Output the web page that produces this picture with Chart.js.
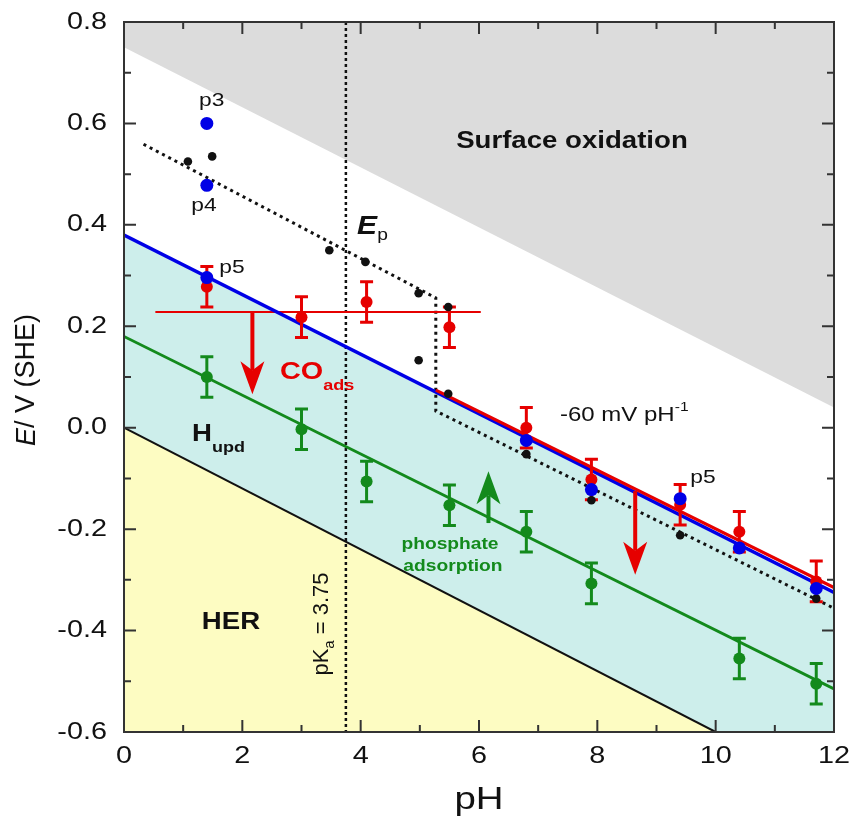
<!DOCTYPE html>
<html><head><meta charset="utf-8">
<script src="https://cdn.jsdelivr.net/npm/chart.js@4.4.0/dist/chart.umd.min.js"></script>
<style>html,body{margin:0;padding:0;background:#fff;overflow:hidden}#wrap{width:851px;height:822px;position:relative}</style>
</head><body><div id="wrap"><canvas id="c"></canvas></div>
<script>
// ---------- data ----------
const xTickLabels = [0, 2, 4, 6, 8, 10, 12];
const xMinorTicks = [1, 3, 5, 7, 9, 11];
const yTickLabels = [0.8, 0.6, 0.4, 0.2, 0.0, -0.2, -0.4, -0.6];
const yMinorTicks = [0.7, 0.5, 0.3, 0.1, -0.1, -0.3, -0.5];

// CO stripping peaks (red, with error bars)
const coPH = [1.4, 3.0, 4.1, 5.5, 6.8, 7.9, 9.4, 10.4, 11.7];
const coE = [0.278, 0.218, 0.248, 0.198, 0.0, -0.102, -0.152, -0.205, -0.303];
const coErr = [0.04, 0.04, 0.04, 0.04, 0.04, 0.04, 0.04, 0.04, 0.04];
// phosphate adsorption (green, with error bars)
const phosPH = [1.4, 3.0, 4.1, 5.5, 6.8, 7.9, 10.4, 11.7];
const phosE = [0.1, -0.003, -0.106, -0.153, -0.205, -0.307, -0.455, -0.505];
const phosErr = [0.04, 0.04, 0.04, 0.04, 0.04, 0.04, 0.04, 0.04];
// peak potentials p3/p4/p5 (blue)
const peakPH = [1.4, 1.4, 1.4, 6.8, 7.9, 9.4, 10.4, 11.7];
const peakE = [0.6, 0.478, 0.296, -0.025, -0.122, -0.14, -0.237, -0.317];
// Ep (black dots)
const epPH = [1.08, 1.49, 3.47, 4.08, 4.98, 5.48, 4.98, 5.48, 6.8, 7.9, 9.4, 11.7];
const epE = [0.525, 0.535, 0.35, 0.327, 0.265, 0.238, 0.133, 0.067, -0.052, -0.143, -0.212, -0.337];

// boundary lines
const oxPH = [0, 12];      const oxE = [0.75, 0.04];
const herPH = [0, 10];     const herE = [0.0, -0.6];
const hupdPH = [0, 12];    const hupdE = [0.38, -0.325];
const coLinePH = [5.27, 12]; const coLineE = [0.074, -0.315];
const phosLinePH = [0, 12];  const phosLineE = [0.18, -0.515];
const epLinePH = [0.33, 5.27, 5.27, 12]; const epLineE = [0.559, 0.256, 0.033, -0.356];
const pKaPH = [3.75, 3.75]; const pKaE = [0.8, -0.6];
const coPlateauPH = [0.53, 6.03]; const coPlateauE = [0.228, 0.228];

// arrows
const arrowPH = [2.17, 8.64, 6.16];
const arrowFrom = [0.228, -0.125, -0.188];
const arrowTo = [0.066, -0.29, -0.086];

// ---------- build ----------
const pts = (xs, ys) => xs.map((x, i) => ({x, y: ys[i]}));
const RED = '#e60000', BLUE = '#0000e6', GREEN = '#138a1c', BLACK = '#111';
const FONT = '"Liberation Sans", Arial, Helvetica, sans-serif';
const SX = 1.2;

function lineDs(xs, ys, color, width, extra) {
  return Object.assign({type: 'line', data: pts(xs, ys), borderColor: color, borderWidth: width,
    pointRadius: 0, fill: false, tension: 0}, extra || {});
}
function pointDs(xs, ys, color, r, extra) {
  return Object.assign({type: 'scatter', data: pts(xs, ys), backgroundColor: color, borderColor: color,
    pointRadius: r, borderWidth: 0, showLine: false}, extra || {});
}

const datasets = [
  pointDs(peakPH, peakE, BLUE, 6.5),
  pointDs(epPH, epE, BLACK, 4.3),
  pointDs(coPH, coE, RED, 6, {errors: coErr}),
  pointDs(phosPH, phosE, GREEN, 6, {errors: phosErr}),
  lineDs(herPH, herE, BLACK, 2, {fill: 'start', backgroundColor: '#fdfcc2'}),
  lineDs(coLinePH, coLineE, RED, 3.2),
  lineDs(hupdPH, hupdE, BLUE, 3.5, {fill: 'start', backgroundColor: '#cdeeeb'}),
  lineDs(coPlateauPH, coPlateauE, RED, 2),
  lineDs(phosLinePH, phosLineE, GREEN, 2.8),
  lineDs(epLinePH, epLineE, BLACK, 3, {borderDash: [3, 4]}),
  lineDs(pKaPH, pKaE, BLACK, 2.5, {borderDash: [3, 3]}),
  lineDs(oxPH, oxE, 'rgba(0,0,0,0)', 0, {fill: 'end', backgroundColor: '#dcdcdc'})
];

// ---------- helpers ----------
function rich(ctx, parts, x, y, align, sx) {
  sx = sx || SX;
  let w = 0;
  parts.forEach(p => { ctx.font = p.font; w += ctx.measureText(p.t).width; });
  ctx.save();
  ctx.translate(x, y);
  ctx.scale(sx, 1);
  let cx = align === 'center' ? -w / 2 : (align === 'right' ? -w : 0);
  ctx.textBaseline = 'middle';
  ctx.textAlign = 'left';
  parts.forEach(p => {
    ctx.font = p.font; ctx.fillStyle = p.color || '#111';
    ctx.fillText(p.t, cx, p.dy || 0);
    cx += ctx.measureText(p.t).width;
  });
  ctx.restore();
}
function arrow(ctx, x, y0, y1, color) {
  const dir = y1 > y0 ? 1 : -1;
  const headL = 33, headW = 12, notch = 24;
  ctx.save();
  ctx.strokeStyle = color; ctx.fillStyle = color; ctx.lineWidth = 4;
  ctx.beginPath(); ctx.moveTo(x, y0); ctx.lineTo(x, y1 - dir * notch); ctx.stroke();
  ctx.beginPath();
  ctx.moveTo(x, y1);
  ctx.lineTo(x - headW, y1 - dir * headL);
  ctx.lineTo(x, y1 - dir * notch);
  ctx.lineTo(x + headW, y1 - dir * headL);
  ctx.closePath(); ctx.fill();
  ctx.restore();
}

const deco = {
  id: 'deco',
  beforeDatasetDraw(chart, args) {
    const ds = chart.data.datasets[args.index];
    if (!ds.errors) return;
    const xs = chart.scales.x, ys = chart.scales.y, ctx = chart.ctx;
    ctx.save();
    ctx.strokeStyle = ds.borderColor; ctx.lineWidth = 3;
    ds.data.forEach((p, i) => {
      const px = xs.getPixelForValue(p.x);
      const t = ys.getPixelForValue(p.y + ds.errors[i]);
      const b = ys.getPixelForValue(p.y - ds.errors[i]);
      ctx.beginPath();
      ctx.moveTo(px, t); ctx.lineTo(px, b);
      ctx.moveTo(px - 6.5, t); ctx.lineTo(px + 6.5, t);
      ctx.moveTo(px - 6.5, b); ctx.lineTo(px + 6.5, b);
      ctx.stroke();
    });
    ctx.restore();
  },
  afterDatasetsDraw(chart) {
    const ctx = chart.ctx, xs = chart.scales.x, ys = chart.scales.y, a = chart.chartArea;
    const X = v => xs.getPixelForValue(v), Y = v => ys.getPixelForValue(v);
    // arrows
    const arrowColors = [RED, RED, GREEN];
    arrowPH.forEach((x, i) => arrow(ctx, X(x), Y(arrowFrom[i]), Y(arrowTo[i]), arrowColors[i]));
    // frame
    ctx.save();
    ctx.strokeStyle = '#333'; ctx.lineWidth = 2;
    ctx.strokeRect(a.left, a.top, a.right - a.left, a.bottom - a.top);
    ctx.beginPath();
    xTickLabels.forEach(v => { const p = X(v); ctx.moveTo(p, a.bottom); ctx.lineTo(p, a.bottom - 12); ctx.moveTo(p, a.top); ctx.lineTo(p, a.top + 12); });
    xMinorTicks.forEach(v => { const p = X(v); ctx.moveTo(p, a.bottom); ctx.lineTo(p, a.bottom - 7); ctx.moveTo(p, a.top); ctx.lineTo(p, a.top + 7); });
    yTickLabels.forEach(v => { const p = Y(v); ctx.moveTo(a.left, p); ctx.lineTo(a.left + 12, p); ctx.moveTo(a.right, p); ctx.lineTo(a.right - 12, p); });
    yMinorTicks.forEach(v => { const p = Y(v); ctx.moveTo(a.left, p); ctx.lineTo(a.left + 7, p); ctx.moveTo(a.right, p); ctx.lineTo(a.right - 7, p); });
    ctx.stroke();
    ctx.restore();
    // tick labels
    const tf = '24px ' + FONT;
    xTickLabels.forEach(v => rich(ctx, [{t: String(v), font: tf}], X(v), a.bottom + 24, 'center'));
    yTickLabels.forEach(v => rich(ctx, [{t: v.toFixed(1), font: tf}], a.left - 17, Y(v), 'right'));
    // axis titles
    rich(ctx, [{t: 'pH', font: '32px ' + FONT}], (a.left + a.right) / 2, 800, 'center');
    ctx.save();
    ctx.translate(27, 380); ctx.rotate(-Math.PI / 2);
    rich(ctx, [{t: 'E', font: 'italic 27px ' + FONT}, {t: '/ V (SHE)', font: '27px ' + FONT}], 0, 0, 'center', 1);
    ctx.restore();
    // annotations
    rich(ctx, [{t: 'Surface oxidation', font: 'bold 23px ' + FONT}], X(7.571), Y(0.5634), 'center');
    rich(ctx, [{t: 'p3', font: '19px ' + FONT}], X(1.482), Y(0.6442), 'center');
    rich(ctx, [{t: 'p4', font: '19px ' + FONT}], X(1.352), Y(0.4372), 'center');
    rich(ctx, [{t: 'p5', font: '19px ' + FONT}], X(1.825), Y(0.3149), 'center');
    rich(ctx, [{t: 'p5', font: '19px ' + FONT}], X(9.785), Y(-0.0992), 'center');
    rich(ctx, [{t: 'E', font: 'italic bold 25px ' + FONT}, {t: 'p', font: '16px ' + FONT, dy: 9}], X(3.94), Y(0.3958), 'left');
    rich(ctx, [{t: 'CO', font: 'bold 24px ' + FONT, color: RED}, {t: 'ads', font: 'bold 15px ' + FONT, color: RED, dy: 14}], X(2.636), Y(0.1099), 'left');
    rich(ctx, [{t: 'H', font: 'bold 23px ' + FONT}, {t: 'upd', font: 'bold 15px ' + FONT, dy: 13}], X(1.149), Y(-0.0144), 'left');
    rich(ctx, [{t: 'HER', font: 'bold 23px ' + FONT}], X(1.808), Y(-0.385), 'center');
    rich(ctx, [{t: 'phosphate', font: 'bold 16px ' + FONT, color: GREEN}], X(5.51), Y(-0.231), 'center');
    rich(ctx, [{t: 'adsorption', font: 'bold 16px ' + FONT, color: GREEN}], X(5.56), Y(-0.2746), 'center');
    rich(ctx, [{t: '-60 mV pH', font: '20px ' + FONT}, {t: '-1', font: '13px ' + FONT, dy: -8}], X(7.369), Y(0.025), 'left');
    ctx.save();
    ctx.translate(X(3.346), Y(-0.387)); ctx.rotate(-Math.PI / 2);
    rich(ctx, [{t: 'pK', font: '22px ' + FONT}, {t: 'a', font: '15px ' + FONT, dy: 8}, {t: ' = 3.75', font: '22px ' + FONT}], 0, 0, 'center', 1);
    ctx.restore();
  }
};

new Chart(document.getElementById('c'), {
  type: 'scatter',
  data: {datasets},
  options: {
    responsive: true, maintainAspectRatio: false, animation: false,
    layout: {padding: {top: 22, right: 17, left: 0, bottom: 0}},
    plugins: {legend: {display: false}, tooltip: {enabled: false}, filler: {drawTime: 'beforeDatasetsDraw'}},
    scales: {
      x: {type: 'linear', min: 0, max: 12, ticks: {display: false}, grid: {display: false}, border: {display: false},
          afterFit: s => { s.height = 90; }},
      y: {type: 'linear', min: -0.6, max: 0.8, ticks: {display: false}, grid: {display: false}, border: {display: false},
          afterFit: s => { s.width = 124; }}
    }
  },
  plugins: [deco]
});
</script></body></html>
